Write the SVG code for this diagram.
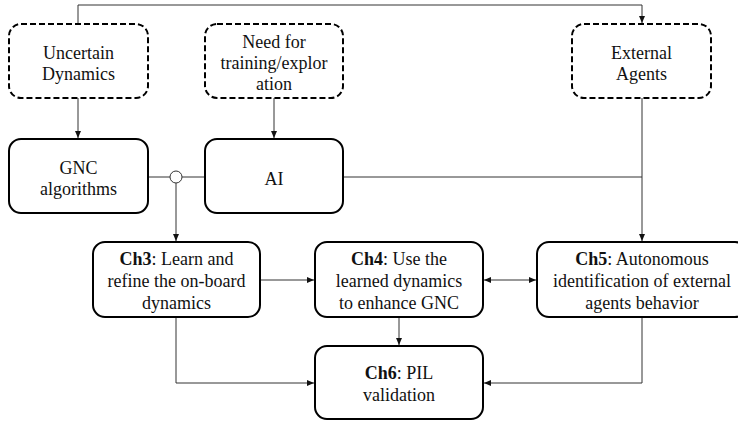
<svg xmlns="http://www.w3.org/2000/svg" width="738" height="421" viewBox="0 0 738 421">
<defs>
<style>
.box{fill:#fff;stroke:#000;stroke-width:2}
.dash{fill:#fff;stroke:#000;stroke-width:2;stroke-dasharray:6,3}
text{font-family:"Liberation Serif",Tinos,"Times New Roman",Times,"Noto Serif","DejaVu Serif",serif;font-size:18px;fill:#111;text-anchor:middle}
.b{font-weight:bold}
.c{fill:none;stroke:#333;stroke-width:1}
</style>
<marker id="ah" markerWidth="8" markerHeight="8" refX="7" refY="4" orient="auto" markerUnits="userSpaceOnUse">
<path d="M0,1 L7,4 L0,7 Z" fill="#111"/>
</marker>
<marker id="as" markerWidth="8" markerHeight="8" refX="0" refY="4" orient="auto" markerUnits="userSpaceOnUse">
<path d="M7,1 L0,4 L7,7 Z" fill="#111"/>
</marker>
</defs>
<rect width="738" height="421" fill="#fff"/>
<g id="connectors">
<path class="c" d="M78,24 V5 H642 V23" stroke="#555" marker-end="url(#ah)"/>
<path class="c" d="M78,98 V138" marker-end="url(#ah)"/>
<path class="c" d="M274,98 V138" marker-end="url(#ah)"/>
<path class="c" d="M148,177 H170 M182,177 H205"/>
<circle cx="176" cy="177" r="6" fill="#fff" stroke="#333" stroke-width="1"/>
<path class="c" d="M176,183 V241" marker-end="url(#ah)"/>
<path class="c" d="M343,177 H642"/>
<path class="c" d="M642,98 V241" marker-end="url(#ah)"/>
<path class="c" d="M260,280 H314" marker-end="url(#ah)"/>
<path class="c" d="M484,280 H536" marker-start="url(#as)" marker-end="url(#ah)"/>
<path class="c" d="M399,317 V345" marker-end="url(#ah)"/>
<path class="c" d="M176,317 V383 H314" marker-end="url(#ah)"/>
<path class="c" d="M642,317 V383 H484" marker-end="url(#ah)"/>
</g>
<g id="uncertain">
<rect class="dash" x="9" y="24" width="139" height="74" rx="12"/>
<text x="78.5" y="59">Uncertain</text>
<text x="78.5" y="80">Dynamics</text>
</g>
<g id="need">
<rect class="dash" x="205" y="24" width="138" height="74" rx="12"/>
<text x="274" y="48">Need for</text>
<text x="274" y="69">training/explor</text>
<text x="274" y="90">ation</text>
</g>
<g id="external">
<rect class="dash" x="572" y="24" width="139" height="74" rx="12"/>
<text x="641.5" y="59">External</text>
<text x="641.5" y="80">Agents</text>
</g>
<g id="gnc">
<rect class="box" x="9" y="139" width="139" height="74" rx="12"/>
<text x="78.5" y="174">GNC</text>
<text x="78.5" y="195">algorithms</text>
</g>
<g id="ai">
<rect class="box" x="205" y="139" width="138" height="74" rx="12"/>
<text x="274" y="185">AI</text>
</g>
<g id="ch3">
<rect class="box" x="93" y="242" width="167" height="75" rx="12"/>
<text x="176.5" y="265"><tspan class="b">Ch3</tspan>: Learn and</text>
<text x="176.5" y="287">refine the on-board</text>
<text x="176.5" y="309">dynamics</text>
</g>
<g id="ch4">
<rect class="box" x="315" y="242" width="168" height="75" rx="12"/>
<text x="399" y="265"><tspan class="b">Ch4</tspan>: Use the</text>
<text x="399" y="287">learned dynamics</text>
<text x="399" y="309">to enhance GNC</text>
</g>
<g id="ch5">
<rect class="box" x="537" y="242" width="210" height="75" rx="12"/>
<text x="642" y="265"><tspan class="b">Ch5</tspan>: Autonomous</text>
<text x="642" y="287">identification of external</text>
<text x="642" y="309">agents behavior</text>
</g>
<g id="ch6">
<rect class="box" x="315" y="346" width="168" height="73" rx="12"/>
<text x="399" y="379"><tspan class="b">Ch6</tspan>: PIL</text>
<text x="399" y="401">validation</text>
</g>
</svg>
